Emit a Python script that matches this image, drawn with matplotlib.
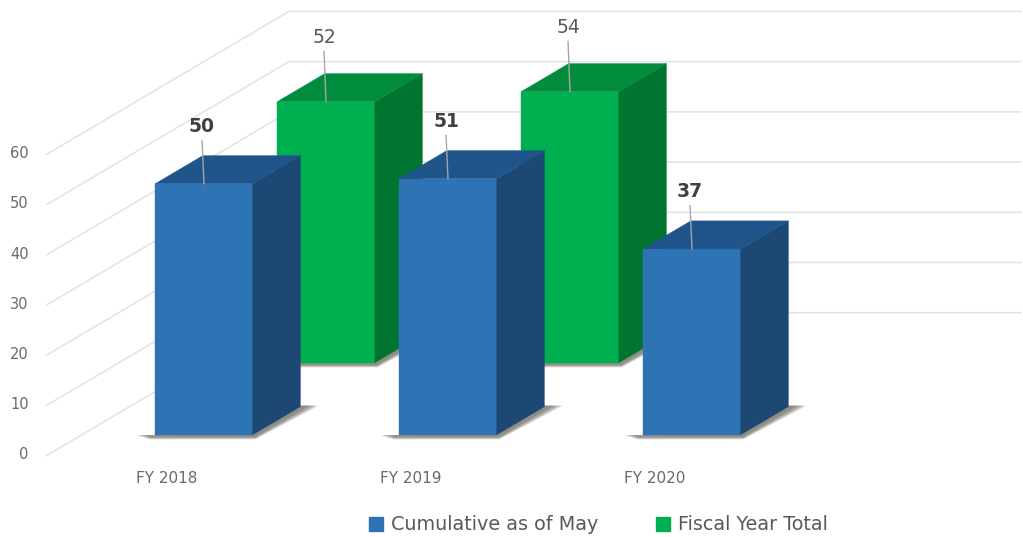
import matplotlib
matplotlib.use("Agg")
import matplotlib.pyplot as plt
from matplotlib.patches import Patch

categories = ["FY 2018", "FY 2019", "FY 2020"]
cumulative = [50, 51, 37]
fiscal_total = [52, 54]   # FY 2018, FY 2019; FY 2020 has no fiscal year total
y_ticks = [0, 10, 20, 30, 40, 50, 60]

W, H = 1023, 537
fig = plt.figure(figsize=(W / 100, H / 100), dpi=100)
ax = fig.add_axes([0, 0, 1, 1])
ax.set_xlim(-204 / 244, (W - 204) / 244)
ax.set_ylim((434.7 - H) / 5.02, 434.7 / 5.02)
ax.axis("off")

# oblique projection: one depth slot moves right and up
DX, DY = 0.5, 14.34
BAR_W, BAR_D = 0.40, 0.39
D_FRONT, D_BACK = -0.29, 1.695


def proj(x, v, d):
    return x + DX * d, v + DY * d


grid = "#E2E2E2"
tick_c = "#6A6A6A"
for t in y_ticks:
    p = [proj(-0.5, t, D_FRONT), proj(-0.5, t, D_BACK), proj(2.5, t, D_BACK)]
    ax.plot([q[0] for q in p], [q[1] for q in p], color=grid, lw=1.1, zorder=1,
            solid_joinstyle="miter")
    ax.annotate(str(t), p[0], xytext=(-13, 0.5), textcoords="offset points", ha="right",
                va="center", fontsize=10.5, color=tick_c)

for i, c in enumerate(categories):
    ax.annotate(c, proj(i, 0, D_FRONT), xytext=(-1.2, -16.5), textcoords="offset points",
                ha="center", va="center", fontsize=11, color=tick_c)


def shadow(x0, x1, d, z):
    bx0, by = proj(x0, 0, d)
    bx1, _ = proj(x1, 0, d)
    for s in (1.0, 0.9, 0.8, 0.7, 0.6, 0.5, 0.4):
        pts = [(bx0 - 0.08 * s, by - 0.1), (bx0 - 0.02, by - 0.95 * s), (bx1 + 0.01, by - 0.95 * s),
               (bx1 + 0.197 + 0.075 * s, by + BAR_D * DY + 0.2), (bx1 + 0.15, by + BAR_D * DY + 0.2),
               (bx1, by)]
        ax.fill(*zip(*pts), color="#6A6A60", alpha=0.18, lw=0, zorder=z)


def bar(x, v, d, front, top, side, z):
    x0, x1 = x - BAR_W / 2, x + BAR_W / 2
    shadow(x0, x1, d, z)
    faces = [
        ([(x0, 0, d), (x1, 0, d), (x1, v, d), (x0, v, d)], front),
        ([(x1, 0, d), (x1, 0, d + BAR_D), (x1, v, d + BAR_D), (x1, v, d)], side),
        ([(x0, v, d), (x1, v, d), (x1, v, d + BAR_D), (x0, v, d + BAR_D)], top),
    ]
    for pts, col in faces:
        ax.fill(*zip(*[proj(*q) for q in pts]), color=col, lw=0.3, zorder=z + 0.1)


def label(x, v, d, bold, z):
    xe, ye = proj(x, v, d)
    rise = 8.6 if bold else 10.0
    xs = xe - 0.008
    ax.plot([xe, xs], [ye, ye + rise], color="#A6A6A6", lw=1, zorder=z)
    ax.annotate(str(v), (xs, ye + rise), xytext=(0, 10), textcoords="offset points",
                ha="center", va="center", fontsize=13.5,
                fontweight="bold" if bold else "normal",
                color="#404040" if bold else "#595959", zorder=z)


BLUE = ("#2E74B5", "#20558C", "#1C4873")
GREEN = ("#00B050", "#008C3C", "#00752F")

for i, v in enumerate(fiscal_total):
    bar(i, v, 1, *GREEN, z=3)
for i, v in enumerate(fiscal_total):
    label(i, v, 1, False, 4)
for i, v in enumerate(cumulative):
    bar(i, v, 0, *BLUE, z=5)
for i, v in enumerate(cumulative):
    label(i, v, 0, True, 6)

handles = [Patch(color=BLUE[0], label="Cumulative as of May"),
           Patch(color=GREEN[0], label="Fiscal Year Total")]
ax.legend(handles=handles, ncol=2, frameon=False, loc="center",
          bbox_to_anchor=(598.5 / W, 1 - 525 / H), fontsize=13.8, handlelength=0.72,
          handleheight=0.72, handletextpad=0.42, columnspacing=3.05, labelcolor="#595959",
          borderpad=0, borderaxespad=0)

fig.savefig("out.png", dpi=100, facecolor="white")
